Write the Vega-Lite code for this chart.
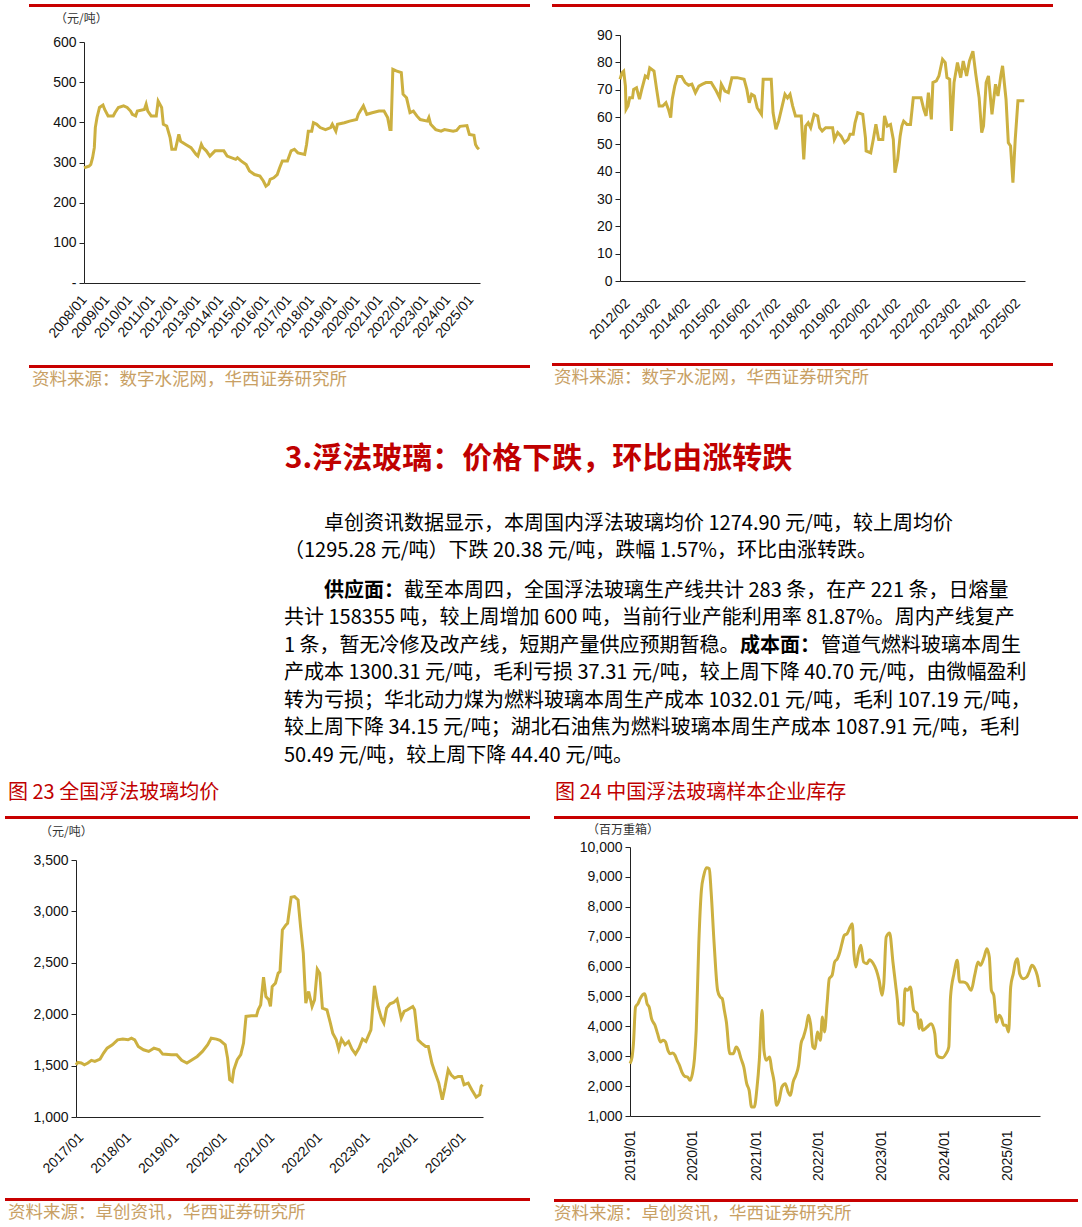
{
  "$schema": "https://vega.github.io/schema/vega-lite/v6.json",
  "background": "white",
  "padding": {"left": 3, "top": 4, "right": 0, "bottom": 4},
  "config": {
    "view": {"stroke": null},
    "axis": {"labelFont": "Liberation Sans", "labelFontSize": 14, "labelColor": "#111", "domainColor": "#222", "tickColor": "#222", "grid": false, "labelFlush": false, "labelOverlap": false, "labelBound": false, "title": null},
    "text": {"font": "Noto Sans CJK SC"},
    "title": {"font": "Noto Sans CJK SC", "fontWeight": "normal"}
  },
  "datasets": {
    "one": [{"k": 1}],
    "a": [
      {"d": "2008/01/01", "v": 287}, {"d": "2008/03/22", "v": 291}, {"d": "2008/04/19", "v": 295}, {"d": "2008/05/18", "v": 312}, {"d": "2008/06/15", "v": 337}, {"d": "2008/07/01", "v": 387}, {"d": "2008/07/28", "v": 412}, {"d": "2008/09/06", "v": 437}, {"d": "2008/11/01", "v": 443}, {"d": "2008/11/28", "v": 432},
      {"d": "2009/01/22", "v": 416}, {"d": "2009/04/15", "v": 416}, {"d": "2009/05/12", "v": 424}, {"d": "2009/07/06", "v": 437}, {"d": "2009/09/28", "v": 441}, {"d": "2009/11/24", "v": 437},
      {"d": "2010/01/18", "v": 428}, {"d": "2010/02/15", "v": 420}, {"d": "2010/04/10", "v": 416}, {"d": "2010/05/07", "v": 428}, {"d": "2010/08/28", "v": 432}, {"d": "2010/09/25", "v": 445}, {"d": "2010/10/22", "v": 428}, {"d": "2010/12/15", "v": 416},
      {"d": "2011/03/07", "v": 416}, {"d": "2011/04/06", "v": 453}, {"d": "2011/06/01", "v": 437}, {"d": "2011/06/28", "v": 395}, {"d": "2011/08/22", "v": 391}, {"d": "2011/10/15", "v": 362}, {"d": "2011/11/12", "v": 333},
      {"d": "2012/01/09", "v": 333}, {"d": "2012/03/03", "v": 370}, {"d": "2012/04/01", "v": 353}, {"d": "2012/06/22", "v": 345}, {"d": "2012/09/15", "v": 337}, {"d": "2012/12/06", "v": 320},
      {"d": "2013/01/03", "v": 316}, {"d": "2013/02/28", "v": 345}, {"d": "2013/03/25", "v": 337}, {"d": "2013/05/18", "v": 329}, {"d": "2013/07/15", "v": 316}, {"d": "2013/10/06", "v": 329},
      {"d": "2014/02/24", "v": 329}, {"d": "2014/04/18", "v": 316}, {"d": "2014/09/03", "v": 308}, {"d": "2014/10/01", "v": 312}, {"d": "2014/11/27", "v": 304},
      {"d": "2015/02/18", "v": 295}, {"d": "2015/04/12", "v": 279}, {"d": "2015/07/03", "v": 270}, {"d": "2015/09/27", "v": 266}, {"d": "2015/11/21", "v": 254},
      {"d": "2016/01/01", "v": 241}, {"d": "2016/02/12", "v": 246}, {"d": "2016/03/09", "v": 258}, {"d": "2016/05/06", "v": 262}, {"d": "2016/07/01", "v": 270}, {"d": "2016/08/09", "v": 287}, {"d": "2016/09/21", "v": 304}, {"d": "2016/12/12", "v": 304},
      {"d": "2017/02/09", "v": 329}, {"d": "2017/04/03", "v": 333}, {"d": "2017/05/28", "v": 324}, {"d": "2017/09/15", "v": 320}, {"d": "2017/10/15", "v": 345}, {"d": "2017/11/12", "v": 378},
      {"d": "2018/01/06", "v": 378}, {"d": "2018/02/03", "v": 399}, {"d": "2018/03/28", "v": 395}, {"d": "2018/05/21", "v": 387}, {"d": "2018/08/15", "v": 382}, {"d": "2018/11/06", "v": 387}, {"d": "2018/12/03", "v": 395},
      {"d": "2019/01/28", "v": 378}, {"d": "2019/02/24", "v": 395}, {"d": "2019/06/15", "v": 399}, {"d": "2019/09/06", "v": 403}, {"d": "2019/12/28", "v": 407},
      {"d": "2020/01/24", "v": 420}, {"d": "2020/04/15", "v": 441}, {"d": "2020/06/09", "v": 420}, {"d": "2020/09/03", "v": 424}, {"d": "2020/12/21", "v": 428},
      {"d": "2021/03/12", "v": 428}, {"d": "2021/05/09", "v": 412}, {"d": "2021/06/15", "v": 382}, {"d": "2021/07/03", "v": 382}, {"d": "2021/08/01", "v": 532}, {"d": "2021/09/24", "v": 528}, {"d": "2021/12/15", "v": 524},
      {"d": "2022/01/12", "v": 470}, {"d": "2022/03/09", "v": 461}, {"d": "2022/05/03", "v": 424}, {"d": "2022/06/27", "v": 428}, {"d": "2022/08/21", "v": 416}, {"d": "2022/10/15", "v": 407},
      {"d": "2023/02/06", "v": 403}, {"d": "2023/03/03", "v": 412}, {"d": "2023/04/01", "v": 395}, {"d": "2023/06/21", "v": 382}, {"d": "2023/09/15", "v": 378}, {"d": "2023/11/09", "v": 382},
      {"d": "2024/03/27", "v": 378}, {"d": "2024/05/21", "v": 380}, {"d": "2024/07/15", "v": 390}, {"d": "2024/11/03", "v": 392}, {"d": "2024/12/12", "v": 370},
      {"d": "2025/02/24", "v": 368}, {"d": "2025/03/21", "v": 345}, {"d": "2025/04/18", "v": 337}, {"d": "2025/05/15", "v": 333}
    ],
    "b": [
      {"d": "2012/01/01", "v": 73.8}, {"d": "2012/01/25", "v": 76.2}, {"d": "2012/02/15", "v": 76.8}, {"d": "2012/03/07", "v": 71.3}, {"d": "2012/03/15", "v": 62.8}, {"d": "2012/04/07", "v": 64}, {"d": "2012/04/28", "v": 67}, {"d": "2012/06/01", "v": 67}, {"d": "2012/06/15", "v": 70.1}, {"d": "2012/07/20", "v": 70.7}, {"d": "2012/08/25", "v": 66.5}, {"d": "2012/09/22", "v": 70.1}, {"d": "2012/11/04", "v": 75}, {"d": "2012/12/04", "v": 74.4}, {"d": "2012/12/28", "v": 78},
      {"d": "2013/02/18", "v": 76.8}, {"d": "2013/03/22", "v": 70.1}, {"d": "2013/04/22", "v": 64}, {"d": "2013/06/04", "v": 64}, {"d": "2013/07/13", "v": 65.2}, {"d": "2013/08/13", "v": 62.8}, {"d": "2013/09/09", "v": 59.8}, {"d": "2013/09/28", "v": 66.5}, {"d": "2013/10/28", "v": 71.3}, {"d": "2013/12/01", "v": 74.8},
      {"d": "2014/01/21", "v": 74.8}, {"d": "2014/03/04", "v": 72.6}, {"d": "2014/04/15", "v": 71.6}, {"d": "2014/05/25", "v": 72}, {"d": "2014/07/07", "v": 68.9}, {"d": "2014/08/18", "v": 71.3}, {"d": "2014/10/01", "v": 72}, {"d": "2014/11/12", "v": 72.6},
      {"d": "2015/01/15", "v": 72.6}, {"d": "2015/03/18", "v": 69.5}, {"d": "2015/04/28", "v": 67}, {"d": "2015/05/18", "v": 72}, {"d": "2015/07/01", "v": 69.5}, {"d": "2015/08/12", "v": 68.9}, {"d": "2015/09/24", "v": 74.4}, {"d": "2015/11/27", "v": 74.4},
      {"d": "2016/02/20", "v": 73.8}, {"d": "2016/03/24", "v": 70.1}, {"d": "2016/04/22", "v": 65.2}, {"d": "2016/05/21", "v": 68.3}, {"d": "2016/06/24", "v": 67.7}, {"d": "2016/07/28", "v": 63.4}, {"d": "2016/09/18", "v": 61}, {"d": "2016/10/09", "v": 73.8},
      {"d": "2017/01/15", "v": 73.8}, {"d": "2017/02/06", "v": 61.6}, {"d": "2017/03/13", "v": 55.5}, {"d": "2017/04/15", "v": 58.5}, {"d": "2017/05/28", "v": 64}, {"d": "2017/07/01", "v": 68.3}, {"d": "2017/08/01", "v": 67}, {"d": "2017/09/01", "v": 68.3}, {"d": "2017/10/03", "v": 64}, {"d": "2017/11/06", "v": 60.4},
      {"d": "2018/01/15", "v": 60.4}, {"d": "2018/02/15", "v": 44.5}, {"d": "2018/03/10", "v": 56.7}, {"d": "2018/04/10", "v": 57.9}, {"d": "2018/05/10", "v": 56.1}, {"d": "2018/06/21", "v": 61}, {"d": "2018/08/03", "v": 60.4}, {"d": "2018/08/27", "v": 56.1}, {"d": "2018/09/27", "v": 54.9}, {"d": "2018/11/09", "v": 56.1},
      {"d": "2019/02/01", "v": 56.1}, {"d": "2019/02/22", "v": 51.8}, {"d": "2019/04/04", "v": 54.3}, {"d": "2019/05/15", "v": 53}, {"d": "2019/06/27", "v": 50.6}, {"d": "2019/08/09", "v": 51.8}, {"d": "2019/09/01", "v": 53.7}, {"d": "2019/10/10", "v": 53.7}, {"d": "2019/11/01", "v": 57.9}, {"d": "2019/12/04", "v": 61.6},
      {"d": "2020/02/03", "v": 61}, {"d": "2020/03/07", "v": 52.4}, {"d": "2020/03/15", "v": 47.6}, {"d": "2020/05/10", "v": 46.9}, {"d": "2020/06/10", "v": 51.8}, {"d": "2020/07/12", "v": 57.3}, {"d": "2020/08/15", "v": 51.8}, {"d": "2020/10/04", "v": 51.8}, {"d": "2020/10/25", "v": 60.4}, {"d": "2020/11/28", "v": 56.7},
      {"d": "2021/01/06", "v": 57.3}, {"d": "2021/02/09", "v": 51.8}, {"d": "2021/03/01", "v": 39.6}, {"d": "2021/04/03", "v": 44.5}, {"d": "2021/05/03", "v": 53}, {"d": "2021/05/24", "v": 56.7}, {"d": "2021/06/15", "v": 58.5}, {"d": "2021/07/25", "v": 57.3}, {"d": "2021/09/06", "v": 57.3}, {"d": "2021/10/10", "v": 67},
      {"d": "2022/01/12", "v": 67}, {"d": "2022/02/15", "v": 62.8}, {"d": "2022/03/15", "v": 60.4}, {"d": "2022/04/12", "v": 68.9}, {"d": "2022/05/18", "v": 59.1}, {"d": "2022/06/06", "v": 72.6}, {"d": "2022/07/18", "v": 73.2}, {"d": "2022/08/18", "v": 75}, {"d": "2022/10/01", "v": 81.1}, {"d": "2022/11/03", "v": 79.9}, {"d": "2022/11/24", "v": 74.4}, {"d": "2022/12/27", "v": 73.8},
      {"d": "2023/01/18", "v": 54.9}, {"d": "2023/02/18", "v": 72.6}, {"d": "2023/04/01", "v": 79.9}, {"d": "2023/05/10", "v": 74.4}, {"d": "2023/06/10", "v": 80.5}, {"d": "2023/07/21", "v": 75}, {"d": "2023/08/25", "v": 80.5}, {"d": "2023/10/06", "v": 84.1}, {"d": "2023/11/10", "v": 75.6}, {"d": "2023/12/21", "v": 67},
      {"d": "2024/01/21", "v": 54.3}, {"d": "2024/02/12", "v": 56.7}, {"d": "2024/03/15", "v": 72.6}, {"d": "2024/04/12", "v": 75}, {"d": "2024/05/25", "v": 61}, {"d": "2024/07/07", "v": 72}, {"d": "2024/08/06", "v": 67.7}, {"d": "2024/09/09", "v": 75}, {"d": "2024/10/01", "v": 78.7}, {"d": "2024/11/12", "v": 66.5}, {"d": "2024/12/10", "v": 50.6},
      {"d": "2025/01/06", "v": 49.4}, {"d": "2025/02/04", "v": 36}, {"d": "2025/03/04", "v": 51.8}, {"d": "2025/04/06", "v": 65.9}, {"d": "2025/06/22", "v": 65.9}
    ],
    "c": [
      {"d": "2017/01/01", "v": 1508}, {"d": "2017/01/14", "v": 1531}, {"d": "2017/02/10", "v": 1525}, {"d": "2017/03/06", "v": 1508}, {"d": "2017/04/02", "v": 1525}, {"d": "2017/04/29", "v": 1551}, {"d": "2017/05/25", "v": 1541}, {"d": "2017/07/04", "v": 1563}, {"d": "2017/07/31", "v": 1622}, {"d": "2017/08/27", "v": 1670}, {"d": "2017/10/06", "v": 1703}, {"d": "2017/11/15", "v": 1751}, {"d": "2017/12/25", "v": 1758},
      {"d": "2018/02/03", "v": 1751}, {"d": "2018/03/01", "v": 1767}, {"d": "2018/03/26", "v": 1751}, {"d": "2018/04/22", "v": 1686}, {"d": "2018/06/01", "v": 1654}, {"d": "2018/07/11", "v": 1638}, {"d": "2018/08/20", "v": 1670}, {"d": "2018/09/29", "v": 1654}, {"d": "2018/10/26", "v": 1612},
      {"d": "2019/01/01", "v": 1606}, {"d": "2019/02/10", "v": 1606}, {"d": "2019/03/20", "v": 1551}, {"d": "2019/04/29", "v": 1525}, {"d": "2019/06/08", "v": 1557}, {"d": "2019/07/17", "v": 1589}, {"d": "2019/08/26", "v": 1638}, {"d": "2019/10/05", "v": 1703}, {"d": "2019/11/01", "v": 1767}, {"d": "2019/12/11", "v": 1758},
      {"d": "2020/01/07", "v": 1745}, {"d": "2020/02/16", "v": 1703}, {"d": "2020/03/05", "v": 1573}, {"d": "2020/03/21", "v": 1363}, {"d": "2020/04/09", "v": 1347}, {"d": "2020/04/22", "v": 1460}, {"d": "2020/05/18", "v": 1557}, {"d": "2020/06/14", "v": 1606}, {"d": "2020/07/05", "v": 1719}, {"d": "2020/07/24", "v": 1978}, {"d": "2020/09/03", "v": 1984}, {"d": "2020/10/12", "v": 1984}, {"d": "2020/10/25", "v": 2043}, {"d": "2020/11/13", "v": 2091}, {"d": "2020/12/05", "v": 2360}, {"d": "2020/12/23", "v": 2172},
      {"d": "2021/01/14", "v": 2140}, {"d": "2021/01/27", "v": 2075}, {"d": "2021/02/09", "v": 2269}, {"d": "2021/03/06", "v": 2302}, {"d": "2021/03/27", "v": 2399}, {"d": "2021/04/10", "v": 2415}, {"d": "2021/04/28", "v": 2820}, {"d": "2021/05/25", "v": 2869}, {"d": "2021/06/07", "v": 2885}, {"d": "2021/07/04", "v": 3137}, {"d": "2021/07/30", "v": 3144}, {"d": "2021/08/26", "v": 3111}, {"d": "2021/09/14", "v": 2852}, {"d": "2021/10/05", "v": 2593}, {"d": "2021/10/24", "v": 2108}, {"d": "2021/11/15", "v": 2221}, {"d": "2021/12/11", "v": 2075}, {"d": "2021/12/30", "v": 2140},
      {"d": "2022/01/20", "v": 2438}, {"d": "2022/02/08", "v": 2399}, {"d": "2022/02/28", "v": 2059}, {"d": "2022/04/04", "v": 2043}, {"d": "2022/04/30", "v": 1913}, {"d": "2022/05/18", "v": 1816}, {"d": "2022/06/14", "v": 1751}, {"d": "2022/07/03", "v": 1661}, {"d": "2022/07/24", "v": 1758}, {"d": "2022/08/20", "v": 1703}, {"d": "2022/09/16", "v": 1735}, {"d": "2022/10/12", "v": 1661}, {"d": "2022/11/08", "v": 1612}, {"d": "2022/12/05", "v": 1670},
      {"d": "2023/01/01", "v": 1758}, {"d": "2023/01/27", "v": 1735}, {"d": "2023/03/06", "v": 1848}, {"d": "2023/04/02", "v": 2276}, {"d": "2023/04/29", "v": 2075}, {"d": "2023/05/25", "v": 1962}, {"d": "2023/06/13", "v": 1913}, {"d": "2023/07/04", "v": 2059}, {"d": "2023/07/30", "v": 2101}, {"d": "2023/08/26", "v": 2114}, {"d": "2023/09/22", "v": 2146}, {"d": "2023/10/24", "v": 1962}, {"d": "2023/11/15", "v": 2027}, {"d": "2023/12/11", "v": 2043},
      {"d": "2024/01/20", "v": 2075}, {"d": "2024/02/03", "v": 2043}, {"d": "2024/02/29", "v": 1751}, {"d": "2024/03/26", "v": 1719}, {"d": "2024/04/27", "v": 1686}, {"d": "2024/05/18", "v": 1686}, {"d": "2024/06/14", "v": 1525}, {"d": "2024/07/05", "v": 1444}, {"d": "2024/08/06", "v": 1330}, {"d": "2024/09/02", "v": 1168}, {"d": "2024/09/21", "v": 1282}, {"d": "2024/10/17", "v": 1460}, {"d": "2024/11/08", "v": 1411}, {"d": "2024/12/04", "v": 1379},
      {"d": "2025/01/01", "v": 1395}, {"d": "2025/01/27", "v": 1395}, {"d": "2025/02/15", "v": 1314}, {"d": "2025/03/19", "v": 1330}, {"d": "2025/04/15", "v": 1266}, {"d": "2025/05/19", "v": 1194}, {"d": "2025/06/15", "v": 1217}, {"d": "2025/06/26", "v": 1298}, {"d": "2025/07/06", "v": 1314}
    ],
    "d": [
      {"d": "2019/01/01", "v": 2751}, {"d": "2019/01/13", "v": 2974}, {"d": "2019/01/21", "v": 3420}, {"d": "2019/02/02", "v": 4647}, {"d": "2019/02/16", "v": 4758}, {"d": "2019/03/01", "v": 4926}, {"d": "2019/03/16", "v": 5060}, {"d": "2019/03/28", "v": 5093}, {"d": "2019/04/10", "v": 4758}, {"d": "2019/04/22", "v": 4647}, {"d": "2019/05/06", "v": 4256}, {"d": "2019/05/26", "v": 4033}, {"d": "2019/06/10", "v": 3755}, {"d": "2019/06/26", "v": 3476}, {"d": "2019/07/12", "v": 3532}, {"d": "2019/07/26", "v": 3476}, {"d": "2019/08/09", "v": 3197}, {"d": "2019/08/22", "v": 3086}, {"d": "2019/09/05", "v": 3108}, {"d": "2019/09/19", "v": 3030}, {"d": "2019/10/01", "v": 2862}, {"d": "2019/10/15", "v": 2695}, {"d": "2019/10/29", "v": 2472}, {"d": "2019/11/15", "v": 2327}, {"d": "2019/12/01", "v": 2305}, {"d": "2019/12/15", "v": 2193}, {"d": "2019/12/29", "v": 2416},
      {"d": "2020/01/10", "v": 2918}, {"d": "2020/01/20", "v": 3866}, {"d": "2020/02/04", "v": 6766}, {"d": "2020/02/19", "v": 8550}, {"d": "2020/03/04", "v": 9052}, {"d": "2020/03/20", "v": 9309}, {"d": "2020/04/05", "v": 9274}, {"d": "2020/04/15", "v": 8550}, {"d": "2020/05/03", "v": 6766}, {"d": "2020/05/23", "v": 5204}, {"d": "2020/06/07", "v": 4981}, {"d": "2020/06/19", "v": 4926}, {"d": "2020/07/01", "v": 4536}, {"d": "2020/07/13", "v": 4145}, {"d": "2020/08/02", "v": 3086}, {"d": "2020/08/22", "v": 3086}, {"d": "2020/09/08", "v": 3309}, {"d": "2020/09/22", "v": 3197}, {"d": "2020/10/06", "v": 2918}, {"d": "2020/10/22", "v": 2639}, {"d": "2020/11/08", "v": 2082}, {"d": "2020/11/22", "v": 1859}, {"d": "2020/12/06", "v": 1301}, {"d": "2020/12/22", "v": 1301},
      {"d": "2021/01/06", "v": 1915}, {"d": "2021/01/20", "v": 2862}, {"d": "2021/02/05", "v": 4536}, {"d": "2021/02/16", "v": 3197}, {"d": "2021/03/01", "v": 2862}, {"d": "2021/03/21", "v": 2974}, {"d": "2021/04/01", "v": 2584}, {"d": "2021/04/16", "v": 2137}, {"d": "2021/04/30", "v": 1357}, {"d": "2021/05/15", "v": 1524}, {"d": "2021/05/31", "v": 1970}, {"d": "2021/06/20", "v": 2082}, {"d": "2021/07/06", "v": 1803}, {"d": "2021/07/20", "v": 1691}, {"d": "2021/08/04", "v": 2137}, {"d": "2021/08/20", "v": 2361}, {"d": "2021/09/05", "v": 2695}, {"d": "2021/09/19", "v": 3420}, {"d": "2021/10/03", "v": 3643}, {"d": "2021/10/19", "v": 3977}, {"d": "2021/11/01", "v": 4368}, {"d": "2021/11/13", "v": 4089}, {"d": "2021/11/27", "v": 3309}, {"d": "2021/12/09", "v": 3253}, {"d": "2021/12/23", "v": 3810},
      {"d": "2022/01/09", "v": 3532}, {"d": "2022/01/21", "v": 4312}, {"d": "2022/02/02", "v": 3810}, {"d": "2022/02/17", "v": 4758}, {"d": "2022/03/02", "v": 5595}, {"d": "2022/03/18", "v": 5706}, {"d": "2022/04/02", "v": 6152}, {"d": "2022/04/18", "v": 6264}, {"d": "2022/05/02", "v": 6487}, {"d": "2022/05/14", "v": 6766}, {"d": "2022/05/28", "v": 7045}, {"d": "2022/06/13", "v": 7100}, {"d": "2022/07/01", "v": 7323}, {"d": "2022/07/13", "v": 7435}, {"d": "2022/07/23", "v": 6431}, {"d": "2022/08/03", "v": 5985}, {"d": "2022/08/17", "v": 6431}, {"d": "2022/09/01", "v": 6710}, {"d": "2022/09/17", "v": 6152}, {"d": "2022/10/07", "v": 6097}, {"d": "2022/10/21", "v": 6231}, {"d": "2022/11/10", "v": 6120}, {"d": "2022/11/30", "v": 5874}, {"d": "2022/12/16", "v": 5539},
      {"d": "2023/01/02", "v": 5037}, {"d": "2023/01/12", "v": 5428}, {"d": "2023/01/26", "v": 6989}, {"d": "2023/02/15", "v": 7122}, {"d": "2023/03/06", "v": 6152}, {"d": "2023/03/22", "v": 5372}, {"d": "2023/04/01", "v": 4870}, {"d": "2023/04/11", "v": 4089}, {"d": "2023/04/25", "v": 4089}, {"d": "2023/05/05", "v": 4033}, {"d": "2023/05/15", "v": 5260}, {"d": "2023/05/29", "v": 5204}, {"d": "2023/06/15", "v": 5316}, {"d": "2023/07/05", "v": 4536}, {"d": "2023/07/25", "v": 4424}, {"d": "2023/08/05", "v": 3922}, {"d": "2023/08/15", "v": 4223}, {"d": "2023/08/25", "v": 3866}, {"d": "2023/09/20", "v": 3977}, {"d": "2023/10/14", "v": 4089}, {"d": "2023/11/04", "v": 3755}, {"d": "2023/11/14", "v": 3086}, {"d": "2023/11/28", "v": 2974}, {"d": "2023/12/18", "v": 2952},
      {"d": "2024/01/08", "v": 3086}, {"d": "2024/01/24", "v": 3309}, {"d": "2024/02/03", "v": 4981}, {"d": "2024/02/23", "v": 5762}, {"d": "2024/03/13", "v": 6208}, {"d": "2024/03/27", "v": 5483}, {"d": "2024/04/16", "v": 5483}, {"d": "2024/05/07", "v": 5428}, {"d": "2024/06/02", "v": 5204}, {"d": "2024/06/22", "v": 5706}, {"d": "2024/07/12", "v": 6152}, {"d": "2024/07/26", "v": 6041}, {"d": "2024/08/16", "v": 6320}, {"d": "2024/09/01", "v": 6599}, {"d": "2024/09/15", "v": 6320}, {"d": "2024/09/27", "v": 5204}, {"d": "2024/10/11", "v": 5037}, {"d": "2024/10/27", "v": 4145}, {"d": "2024/11/11", "v": 4368}, {"d": "2024/11/25", "v": 4256}, {"d": "2024/12/07", "v": 4033}, {"d": "2024/12/21", "v": 4033},
      {"d": "2025/01/05", "v": 3810}, {"d": "2025/01/17", "v": 5316}, {"d": "2025/02/01", "v": 5762}, {"d": "2025/02/14", "v": 6152}, {"d": "2025/02/26", "v": 6264}, {"d": "2025/03/10", "v": 5762}, {"d": "2025/03/31", "v": 5595}, {"d": "2025/04/20", "v": 5651}, {"d": "2025/05/04", "v": 5818}, {"d": "2025/05/20", "v": 6041}, {"d": "2025/06/06", "v": 5929}, {"d": "2025/06/20", "v": 5706}, {"d": "2025/07/03", "v": 5316}
    ],
    "para": [
      {"p": 1, "n": 1, "w": "i", "t": "卓创资讯数据显示，本周国内浮法玻璃均价 1274.90 元/吨，较上周均价"},
      {"p": 1, "n": 2, "w": "n", "t": "（1295.28 元/吨）下跌 20.38 元/吨，跌幅 1.57%，环比由涨转跌。"},
      {"p": 2, "n": 1, "w": "r", "t": "截至本周四，全国浮法玻璃生产线共计 283 条，在产 221 条，日熔量"},
      {"p": 2, "n": 1, "w": "b", "t": "供应面："},
      {"p": 2, "n": 2, "w": "n", "t": "共计 158355 吨，较上周增加 600 吨，当前行业产能利用率 81.87%。周内产线复产"},
      {"p": 2, "n": 3, "w": "n", "t": "1 条，暂无冷修及改产线，短期产量供应预期暂稳。"},
      {"p": 2, "n": 3, "w": "c", "t": "成本面："},
      {"p": 2, "n": 3, "w": "t", "t": "管道气燃料玻璃本周生"},
      {"p": 2, "n": 4, "w": "n", "t": "产成本 1300.31 元/吨，毛利亏损 37.31 元/吨，较上周下降 40.70 元/吨，由微幅盈利"},
      {"p": 2, "n": 5, "w": "n", "t": "转为亏损；华北动力煤为燃料玻璃本周生产成本 1032.01 元/吨，毛利 107.19 元/吨，"},
      {"p": 2, "n": 6, "w": "n", "t": "较上周下降 34.15 元/吨；湖北石油焦为燃料玻璃本周生产成本 1087.91 元/吨，毛利"},
      {"p": 2, "n": 7, "w": "n", "t": "50.49 元/吨，较上周下降 44.40 元/吨。"}
    ]
  },
  "vconcat": [
    {
      "vconcat": [
        {
          "hconcat": [
            {"width": 4, "height": 1, "data": {"name": "one"}, "mark": {"type": "text", "fontSize": 0}, "encoding": {"text": {"value": ""}}},
            {
              "vconcat": [
                {"width": 501, "height": 1, "data": {"name": "one"}, "mark": {"type": "rule", "color": "#c80000", "strokeWidth": 3}, "encoding": {"x": {"datum": 0, "type": "quantitative", "scale": {"domain": [0, 1], "nice": false, "zero": false}, "axis": null}, "x2": {"datum": 1}}},
                {
                  "hconcat": [
                    {"width": 1, "height": 1, "data": {"name": "one"}, "mark": {"type": "text", "fontSize": 0}, "encoding": {"text": {"value": ""}}},
                    {
                      "width": 396, "height": 241,
                      "data": {"name": "a"},
                      "title": {"text": "（元/吨）", "anchor": "start", "frame": "group", "offset": 9, "dx": -29, "fontSize": 12, "color": "#333"},
                      "mark": {"type": "line", "color": "#ccb040", "strokeWidth": 3},
                      "encoding": {
                        "x": {"field": "d", "type": "temporal",
                          "scale": {"domain": [{"year": 2008, "month": 1, "date": 1}, {"year": 2025, "month": 6, "date": 1}], "nice": false},
                          "axis": {"format": "%Y/%m", "labelAngle": -50, "ticks": false, "labelPadding": 14, "minExtent": 76,
                            "values": [{"year": 2008, "month": 1, "date": 1}, {"year": 2009, "month": 1, "date": 1}, {"year": 2010, "month": 1, "date": 1}, {"year": 2011, "month": 1, "date": 1}, {"year": 2012, "month": 1, "date": 1}, {"year": 2013, "month": 1, "date": 1}, {"year": 2014, "month": 1, "date": 1}, {"year": 2015, "month": 1, "date": 1}, {"year": 2016, "month": 1, "date": 1}, {"year": 2017, "month": 1, "date": 1}, {"year": 2018, "month": 1, "date": 1}, {"year": 2019, "month": 1, "date": 1}, {"year": 2020, "month": 1, "date": 1}, {"year": 2021, "month": 1, "date": 1}, {"year": 2022, "month": 1, "date": 1}, {"year": 2023, "month": 1, "date": 1}, {"year": 2024, "month": 1, "date": 1}, {"year": 2025, "month": 1, "date": 1}]}},
                        "y": {"field": "v", "type": "quantitative",
                          "scale": {"domain": [0, 600], "nice": false},
                          "axis": {"values": [0, 100, 200, 300, 400, 500, 600], "labelExpr": "datum.value == 0 ? '-' : datum.label", "tickSize": 5, "labelPadding": 3, "minExtent": 54}}
                      }
                    }
                  ],
                  "spacing": 0
                },
                {"width": 501, "height": 1, "data": {"name": "one"},
                  "title": {"text": "资料来源：数字水泥网，华西证券研究所", "orient": "bottom", "anchor": "start", "frame": "group", "offset": 3, "dx": 3, "fontSize": 17.5, "color": "#c8a064"},
                  "mark": {"type": "rule", "color": "#c80000", "strokeWidth": 3}, "encoding": {"x": {"datum": 0, "type": "quantitative", "scale": {"domain": [0, 1], "nice": false, "zero": false}, "axis": null}, "x2": {"datum": 1}}}
              ],
              "spacing": 6
            },
            {
              "vconcat": [
                {"width": 501, "height": 1, "data": {"name": "one"}, "mark": {"type": "rule", "color": "#c80000", "strokeWidth": 3}, "encoding": {"x": {"datum": 0, "type": "quantitative", "scale": {"domain": [0, 1], "nice": false, "zero": false}, "axis": null}, "x2": {"datum": 1}}},
                {
                  "hconcat": [
                    {"width": 1, "height": 1, "data": {"name": "one"}, "mark": {"type": "text", "fontSize": 0}, "encoding": {"text": {"value": ""}}},
                    {
                      "width": 405, "height": 246,
                      "data": {"name": "b"},
                      "mark": {"type": "line", "color": "#ccb040", "strokeWidth": 3},
                      "encoding": {
                        "x": {"field": "d", "type": "temporal",
                          "scale": {"domain": [{"year": 2012, "month": 1, "date": 1}, {"year": 2025, "month": 7, "date": 1}], "nice": false},
                          "axis": {"format": "%Y/%m", "labelAngle": -45, "ticks": false, "labelPadding": 15, "minExtent": 61,
                            "values": [{"year": 2012, "month": 2, "date": 1}, {"year": 2013, "month": 2, "date": 1}, {"year": 2014, "month": 2, "date": 1}, {"year": 2015, "month": 2, "date": 1}, {"year": 2016, "month": 2, "date": 1}, {"year": 2017, "month": 2, "date": 1}, {"year": 2018, "month": 2, "date": 1}, {"year": 2019, "month": 2, "date": 1}, {"year": 2020, "month": 2, "date": 1}, {"year": 2021, "month": 2, "date": 1}, {"year": 2022, "month": 2, "date": 1}, {"year": 2023, "month": 2, "date": 1}, {"year": 2024, "month": 2, "date": 1}, {"year": 2025, "month": 2, "date": 1}]}},
                        "y": {"field": "v", "type": "quantitative",
                          "scale": {"domain": [0, 90], "nice": false},
                          "axis": {"values": [0, 10, 20, 30, 40, 50, 60, 70, 80, 90], "tickSize": 5, "labelPadding": 3, "minExtent": 67}}
                      }
                    }
                  ],
                  "spacing": 0
                },
                {"width": 501, "height": 1, "data": {"name": "one"},
                  "title": {"text": "资料来源：数字水泥网，华西证券研究所", "orient": "bottom", "anchor": "start", "frame": "group", "offset": 3, "dx": 2, "fontSize": 17.5, "color": "#c8a064"},
                  "mark": {"type": "rule", "color": "#c80000", "strokeWidth": 3}, "encoding": {"x": {"datum": 0, "type": "quantitative", "scale": {"domain": [0, 1], "nice": false, "zero": false}, "axis": null}, "x2": {"datum": 1}}}
              ],
              "spacing": 21
            }
          ],
          "spacing": 18
        },
        {
          "title": {"text": "3.浮法玻璃：价格下跌，环比由涨转跌", "anchor": "middle", "frame": "bounds", "offset": 36, "dx": 5, "fontSize": 30, "fontWeight": "bold", "color": "#c00000"},
          "hconcat": [
            {"width": 279, "height": 1, "data": {"name": "one"}, "mark": {"type": "text", "fontSize": 0}, "encoding": {"text": {"value": ""}}},
            {
              "vconcat": [
                {
                  "width": 778, "height": 55,
                  "data": {"name": "para"},
                  "transform": [{"filter": "datum.p == 1"}],
                  "encoding": {"y": {"field": "n", "type": "ordinal", "axis": null}, "x": {"value": 0}, "text": {"field": "t"}},
                  "layer": [
                    {"transform": [{"filter": "datum.w == 'i'"}], "mark": {"type": "text", "align": "left", "baseline": "middle", "fontSize": 20, "color": "#000", "dx": 40}},
                    {"transform": [{"filter": "datum.w == 'n'"}], "mark": {"type": "text", "align": "left", "baseline": "middle", "fontSize": 20, "color": "#000"}}
                  ]
                },
                {
                  "width": 778, "height": 192.5,
                  "data": {"name": "para"},
                  "transform": [{"filter": "datum.p == 2"}],
                  "encoding": {"y": {"field": "n", "type": "ordinal", "axis": null}, "x": {"value": 0}, "text": {"field": "t"}},
                  "layer": [
                    {"transform": [{"filter": "datum.w == 'n'"}], "mark": {"type": "text", "align": "left", "baseline": "middle", "fontSize": 20, "color": "#000"}},
                    {"transform": [{"filter": "datum.w == 'r'"}], "mark": {"type": "text", "align": "left", "baseline": "middle", "fontSize": 20, "color": "#000", "dx": 120}},
                    {"transform": [{"filter": "datum.w == 'b'"}], "mark": {"type": "text", "align": "left", "baseline": "middle", "fontSize": 20, "fontWeight": "bold", "color": "#000", "dx": 40}},
                    {"transform": [{"filter": "datum.w == 'c'"}], "mark": {"type": "text", "align": "left", "baseline": "middle", "fontSize": 20, "fontWeight": "bold", "color": "#000", "dx": 456}},
                    {"transform": [{"filter": "datum.w == 't'"}], "mark": {"type": "text", "align": "left", "baseline": "middle", "fontSize": 20, "color": "#000", "dx": 537}}
                  ]
                }
              ],
              "spacing": 12
            }
          ],
          "spacing": 0
        }
      ],
      "spacing": 55
    },
    {
      "hconcat": [
        {
          "vconcat": [
            {"width": 525, "height": 1, "data": {"name": "one"},
              "title": {"text": "图 23 全国浮法玻璃均价", "anchor": "start", "frame": "group", "offset": 13, "dx": 3, "fontSize": 20, "color": "#c00000"},
              "mark": {"type": "rule", "color": "#c80000", "strokeWidth": 3}, "encoding": {"x": {"datum": 0, "type": "quantitative", "scale": {"domain": [0, 1], "nice": false, "zero": false}, "axis": null}, "x2": {"datum": 1}}},
            {
              "hconcat": [
                {"width": 1, "height": 1, "data": {"name": "one"}, "mark": {"type": "text", "fontSize": 0}, "encoding": {"text": {"value": ""}}},
                {
                  "width": 407, "height": 257,
                  "data": {"name": "c"},
                  "title": {"text": "（元/吨）", "anchor": "start", "frame": "group", "offset": 14, "dx": -36, "fontSize": 12, "color": "#333"},
                  "mark": {"type": "line", "color": "#ccb040", "strokeWidth": 3},
                  "encoding": {
                    "x": {"field": "d", "type": "temporal",
                      "scale": {"domain": [{"year": 2017, "month": 1, "date": 1}, {"year": 2025, "month": 7, "date": 10}], "nice": false},
                      "axis": {"format": "%Y/%m", "labelAngle": -45, "ticks": false, "labelPadding": 13, "minExtent": 74,
                        "values": [{"year": 2017, "month": 1, "date": 1}, {"year": 2018, "month": 1, "date": 1}, {"year": 2019, "month": 1, "date": 1}, {"year": 2020, "month": 1, "date": 1}, {"year": 2021, "month": 1, "date": 1}, {"year": 2022, "month": 1, "date": 1}, {"year": 2023, "month": 1, "date": 1}, {"year": 2024, "month": 1, "date": 1}, {"year": 2025, "month": 1, "date": 1}]}},
                    "y": {"field": "v", "type": "quantitative",
                      "scale": {"domain": [1000, 3500], "nice": false, "zero": false},
                      "axis": {"values": [1000, 1500, 2000, 2500, 3000, 3500], "format": ",.0f", "tickSize": 5, "labelPadding": 3, "minExtent": 70}}
                  }
                }
              ],
              "spacing": 0
            },
            {"width": 525, "height": 1, "data": {"name": "one"},
              "title": {"text": "资料来源：卓创资讯，华西证券研究所", "orient": "bottom", "anchor": "start", "frame": "group", "offset": 3, "dx": 3, "fontSize": 17.5, "color": "#c8a064"},
              "mark": {"type": "rule", "color": "#c80000", "strokeWidth": 3}, "encoding": {"x": {"datum": 0, "type": "quantitative", "scale": {"domain": [0, 1], "nice": false, "zero": false}, "axis": null}, "x2": {"datum": 1}}}
          ],
          "spacing": 7
        },
        {
          "vconcat": [
            {"width": 524, "height": 1, "data": {"name": "one"},
              "title": {"text": "图 24 中国浮法玻璃样本企业库存", "anchor": "start", "frame": "group", "offset": 13, "dx": 1, "fontSize": 20, "color": "#c00000"},
              "mark": {"type": "rule", "color": "#c80000", "strokeWidth": 3}, "encoding": {"x": {"datum": 0, "type": "quantitative", "scale": {"domain": [0, 1], "nice": false, "zero": false}, "axis": null}, "x2": {"datum": 1}}},
            {
              "hconcat": [
                {"width": 1, "height": 1, "data": {"name": "one"}, "mark": {"type": "text", "fontSize": 0}, "encoding": {"text": {"value": ""}}},
                {
                  "width": 410, "height": 269,
                  "data": {"name": "d"},
                  "title": {"text": "（百万重箱）", "anchor": "start", "frame": "group", "offset": 3, "dx": -43, "fontSize": 12, "color": "#333"},
                  "mark": {"type": "line", "color": "#ccb040", "strokeWidth": 3, "interpolate": "monotone"},
                  "encoding": {
                    "x": {"field": "d", "type": "temporal",
                      "scale": {"domain": [{"year": 2019, "month": 1, "date": 1}, {"year": 2025, "month": 7, "date": 6}], "nice": false},
                      "axis": {"format": "%Y/%m", "labelAngle": -90, "ticks": false, "labelPadding": 14, "minExtent": 78,
                        "values": [{"year": 2019, "month": 1, "date": 1}, {"year": 2020, "month": 1, "date": 1}, {"year": 2021, "month": 1, "date": 1}, {"year": 2022, "month": 1, "date": 1}, {"year": 2023, "month": 1, "date": 1}, {"year": 2024, "month": 1, "date": 1}, {"year": 2025, "month": 1, "date": 1}]}},
                    "y": {"field": "v", "type": "quantitative",
                      "scale": {"domain": [1000, 10000], "nice": false, "zero": false},
                      "axis": {"values": [1000, 2000, 3000, 4000, 5000, 6000, 7000, 8000, 9000, 10000], "format": ",.0f", "tickSize": 5, "labelPadding": 3, "minExtent": 75}}
                  }
                }
              ],
              "spacing": 0
            },
            {"width": 524, "height": 1, "data": {"name": "one"},
              "title": {"text": "资料来源：卓创资讯，华西证券研究所", "orient": "bottom", "anchor": "start", "frame": "group", "offset": 3, "dx": 0, "fontSize": 17.5, "color": "#c8a064"},
              "mark": {"type": "rule", "color": "#c80000", "strokeWidth": 3}, "encoding": {"x": {"datum": 0, "type": "quantitative", "scale": {"domain": [0, 1], "nice": false, "zero": false}, "axis": null}, "x2": {"datum": 1}}}
          ],
          "spacing": 5
        }
      ],
      "spacing": 20
    }
  ],
  "spacing": 13
}
